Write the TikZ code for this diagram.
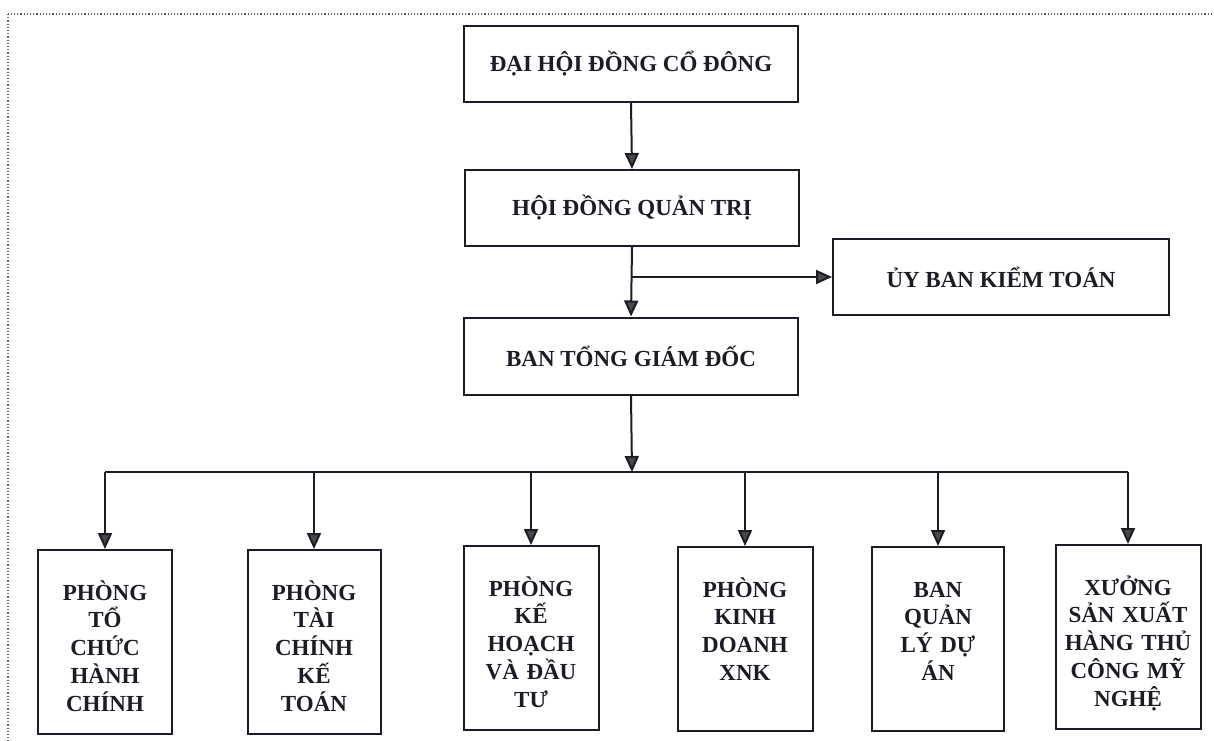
\documentclass[tikz,border=0pt]{standalone}
\usepackage{fontspec}
\setmainfont{Liberation Serif}
\usetikzlibrary{arrows.meta}
\definecolor{ink}{RGB}{28,28,38}
\definecolor{tipgray}{RGB}{72,72,78}
\tikzset{
  unit/.style={draw=ink, line width=2pt, text=ink, inner sep=0pt,
    font=\bfseries\fontsize{23}{27.8}\selectfont},
  board/.style={unit, minimum width=334pt, minimum height=76pt},
  dept/.style={unit, text width=#1, align=center, inner ysep=10pt,
    text height=40pt, text depth=124pt},
  link/.style={draw=ink, line width=2pt},
  arr/.style={link, -{Triangle[length=16pt,width=14pt,fill=tipgray]}}
}
\begin{document}
\begin{tikzpicture}[x=1pt,y=-1pt]
\useasboundingbox (0,0) rectangle (1214,740);
\draw[dotted, line width=1.2pt, ink!70] (8,14) rectangle (1240,760);

\node[board] (dhdcd) at (631,64) {ĐẠI HỘI ĐỒNG CỔ ĐÔNG};
\node[board] (hdqt) at (632,208) {HỘI ĐỒNG QUẢN TRỊ};
\node[board, minimum width=336pt] (ubkt) at (1001,277) {ỦY BAN KIỂM TOÁN};
\node[board, minimum height=77pt] (btgd) at (631,356) {BAN TỔNG GIÁM ĐỐC};
\coordinate (bus) at (632,472);

\foreach \n/\cx/\cy/\w/\txt in {
  p1/105/642/134pt/{PHÒNG\\TỔ\\CHỨC\\HÀNH\\CHÍNH},
  p2/314/642/133pt/{PHÒNG\\TÀI\\CHÍNH\\KẾ\\TOÁN},
  p3/531/638/135pt/{PHÒNG\\KẾ\\HOẠCH\\VÀ ĐẦU\\TƯ},
  p4/745/639/135pt/{PHÒNG\\KINH\\DOANH\\XNK},
  p5/938/639/132pt/{BAN\\QUẢN\\LÝ DỰ\\ÁN},
  p6/1128/637/145pt/{XƯỞNG\\SẢN XUẤT\\HÀNG THỦ\\CÔNG MỸ\\NGHỆ}}{
  \node[dept=\w] (\n) at (\cx,\cy) {\txt};}

\draw[arr] (dhdcd.south) -- (hdqt.north);
\draw[arr] (hdqt.south) -- (btgd.north);
\draw[arr] (hdqt.south |- ubkt.west) -- (ubkt.west);
\draw[arr] (btgd.south) -- (bus);
\draw[link] (p1.north |- bus) -- (p6.north |- bus);
\foreach \n in {p1,p2,p3,p4,p5,p6}{
  \draw[arr] (\n.north |- bus) -- (\n.north);}
\end{tikzpicture}
\end{document}
